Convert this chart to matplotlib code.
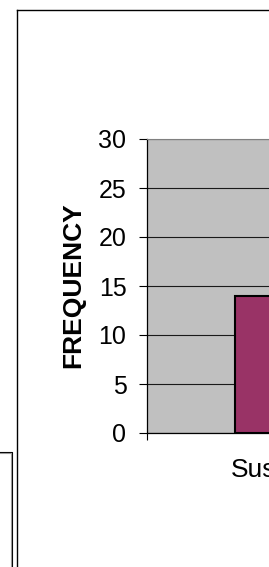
import matplotlib.pyplot as plt
from matplotlib.lines import Line2D

plt.rcParams['font.family'] = ['Liberation Sans', 'DejaVu Sans']

# data
categories = ['Suspected']
frequency = [14]
y_ticks = [0, 5, 10, 15, 20, 25, 30]

W, H = 269, 567
fig = plt.figure(figsize=(W / 100, H / 100), dpi=100)
fig.patch.set_facecolor('white')

# outer chart frame (cut off on the right / bottom)
fig.add_artist(Line2D([16.5 / W, 16.5 / W], [0, 1 - 9.5 / H], transform=fig.transFigure,
                      color='black', lw=1.0))
fig.add_artist(Line2D([16.5 / W, 1.0], [1 - 9.5 / H, 1 - 9.5 / H], transform=fig.transFigure,
                      color='black', lw=1.0))

# small box at bottom left (neighbouring object)
fig.add_artist(Line2D([0, 12 / W, 12 / W], [1 - 451.5 / H, 1 - 451.5 / H, 0],
                      transform=fig.transFigure, color='black', lw=0.8))
fig.add_artist(Line2D([0, 10.5 / W, 10.5 / W], [1 - 453 / H, 1 - 453 / H, 0],
                      transform=fig.transFigure, color='#999999', lw=0.8))

# plot area: left=147px, top=139px, bottom=433px, one category = 293px wide
left, top, bottom, cat_w = 147, 139, 433, 293
ax = fig.add_axes([left / W, 1 - bottom / H, cat_w * len(categories) / W, (bottom - top) / H])
ax.set_facecolor('#C0C0C0')

x = [i + 0.5 for i in range(len(categories))]
ax.bar(x, frequency, width=0.4, color='#993366', edgecolor='black', linewidth=1.5, zorder=3)

ax.set_xlim(0, len(categories))
ax.set_ylim(0, 30)
ax.set_yticks(y_ticks)
ax.yaxis.grid(True, color='#1a1a1a', linewidth=0.8, zorder=1)
ax.set_axisbelow(True)
ax.tick_params(axis='y', direction='out', length=5.8, width=0.8, pad=9, labelsize=18)

ax.set_xticks(x)
ax.set_xticklabels(categories, fontsize=19)
ax.set_xticks(range(len(categories) + 1), minor=True)
ax.tick_params(axis='x', which='major', length=0, pad=18)
ax.tick_params(axis='x', which='minor', direction='out', length=5, width=0.8)

for side in ['left', 'bottom']:
    ax.spines[side].set_color('black')
    ax.spines[side].set_linewidth(0.9)
ax.spines['top'].set_color('#808080')
ax.spines['right'].set_visible(False)

fig.text(80 / W, 1 - 285.5 / H, 'FREQUENCY', rotation=90, rotation_mode='anchor',
         ha='center', va='baseline', fontsize=19, fontweight='bold')

fig.savefig('out.png', dpi=100)
